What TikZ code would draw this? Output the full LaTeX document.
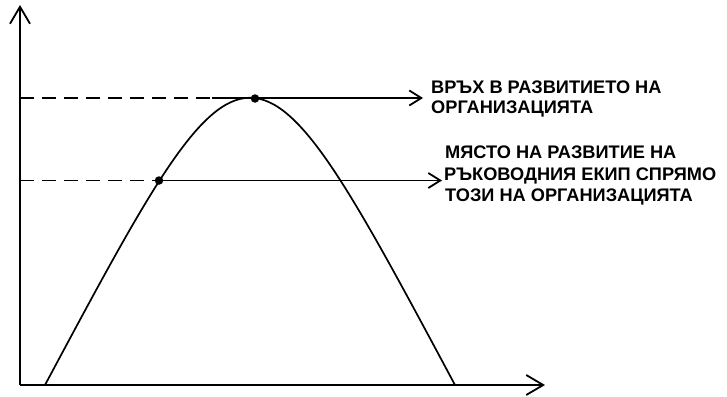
\documentclass[tikz,border=0pt]{standalone}
\usepackage{fontspec}
\setmainfont{Liberation Sans}
\usetikzlibrary{arrows.meta}
\begin{document}
\begin{tikzpicture}[x=1pt,y=-1pt,
  axis/.style={line width=1.8pt,-{Straight Barb[length=17pt,width=20pt,line width=1.8pt]}},
  lead/.style={line width=1.8pt,-{Straight Barb[length=12pt,width=15pt,line width=1.8pt]}},
  guide/.style={line width=1.8pt,dash pattern=on 14pt off 8pt},
  curve/.style={line width=1.7pt},
  dot/.style={circle,fill=black,inner sep=0pt,minimum size=8.5pt},
  lbl/.style={anchor=base west,inner sep=0pt,font=\fontsize{18.2}{21}\selectfont\bfseries}
]
\useasboundingbox (0,0) rectangle (727,396);
\coordinate (O) at (20,385);
\coordinate (Ytip) at (20,5);
\coordinate (Xtip) at (545,385);
\coordinate (F1) at (45,385);
\coordinate (F2) at (455,385);
\coordinate (Y1) at (20,98);
\coordinate (Y2) at (20,180.5);
\coordinate (D1) at (212,98);
\coordinate (T1) at (423,98);
\coordinate (T2) at (442,180.5);
\draw[axis] (O) -- (Ytip);
\draw[axis] (O) -- (Xtip);
\draw[curve] (F1) .. controls (250,2) and (250,2) .. (F2);
\node[dot] (P) at (255,98.5) {};
\node[dot] (Q) at (159,180.5) {};
\draw[guide] (Y1) -- (D1);
\draw[lead] (D1) -- (T1);
\draw[guide] (Y2) -- (Q.center);
\draw[lead] (Q.center) -- (T2);
\node[lbl] (a1) at (431,93) {ВРЪХ В РАЗВИТИЕТО НА};
\node[lbl] (a2) at (431,113) {ОРГАНИЗАЦИЯТА};
\node[lbl] (b1) at (445,158.5) {МЯСТО НА РАЗВИТИЕ НА};
\node[lbl] (b2) at (444,180) {РЪКОВОДНИЯ ЕКИП СПРЯМО};
\node[lbl] (b3) at (445,201.5) {ТОЗИ НА ОРГАНИЗАЦИЯТА};
\end{tikzpicture}
\end{document}
